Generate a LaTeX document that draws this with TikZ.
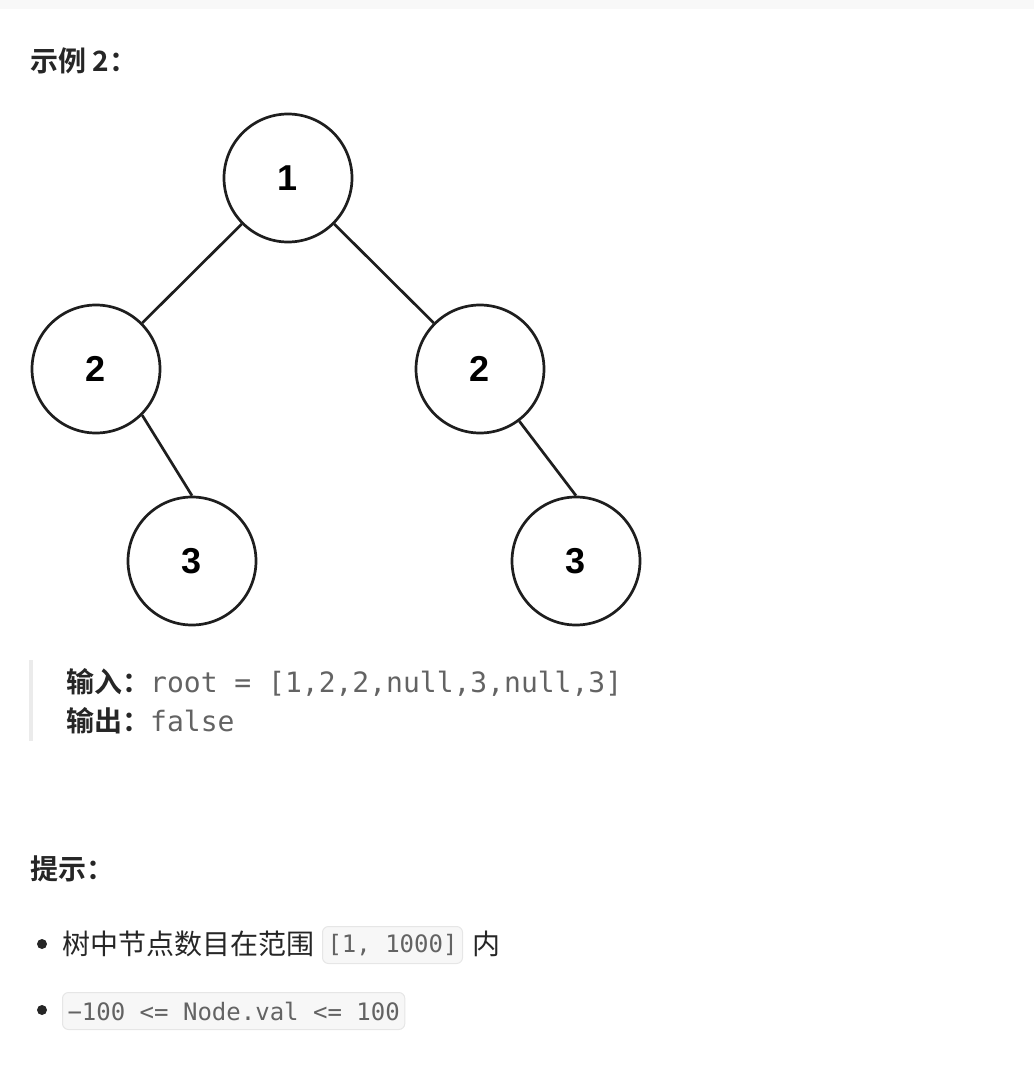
\documentclass[tikz,border=0pt]{standalone}
\usepackage{fontspec}
\setmainfont{Noto Sans CJK SC}
\newfontfamily\cjk{Noto Sans CJK SC}
\newfontfamily\cjkbold{Noto Sans CJK SC Bold}
\newfontfamily\codefont{DejaVu Sans Mono}
\newfontfamily\treefont{Liberation Sans}
\definecolor{topband}{HTML}{F8F8F8}
\definecolor{textdark}{HTML}{262626}
\definecolor{codegray}{HTML}{636363}
\definecolor{quotebar}{HTML}{EBEBEB}
\definecolor{codefill}{HTML}{F7F7F7}
\definecolor{codeborder}{HTML}{E6E6E6}
\definecolor{treeline}{HTML}{1E1E1E}
\begin{document}
\begin{tikzpicture}[x=1pt,y=-1pt,
  treenode/.style={circle, draw=treeline, line width=2.7pt, minimum size=128pt, inner sep=0pt,
    font=\treefont\bfseries\fontsize{36}{36}\selectfont, text=black},
  treeedge/.style={draw=treeline, line width=2.7pt},
  heading/.style={anchor=base west, inner sep=0pt, text=textdark, font=\cjkbold\fontsize{28}{34}\selectfont},
  bodytext/.style={anchor=base west, inner sep=0pt, text=textdark, font=\cjk\fontsize{28}{34}\selectfont},
  codetext/.style={anchor=base west, inner sep=0pt, text=codegray, font=\codefont\fontsize{28}{34}\selectfont},
  codebox/.style={anchor=west, fill=codefill, draw=codeborder, line width=1pt, rounded corners=6pt,
    inner xsep=5pt, inner ysep=0pt, minimum height=37pt, text=codegray, font=\codefont\fontsize{24}{28}\selectfont},
  bulletdot/.style={circle, fill=textdark, inner sep=0pt, minimum size=10pt}
]
\useasboundingbox (0,0) rectangle (1034,1076);
\fill[topband] (0,0) rectangle (1034,9);

% title
\node[heading] (title) at (30,71) {示例 2：};

% tree
\node[treenode] (n1) at (288,178) {1};
\node[treenode] (n2l) at (96,369) {2};
\node[treenode] (n2r) at (480,369) {2};
\node[treenode] (n3l) at (192,561) {3};
\node[treenode] (n3r) at (576,561) {3};
\draw[treeedge] (n1) -- (n2l);
\draw[treeedge] (n1) -- (n2r);
\draw[treeedge] (n2l.-45) -- (n3l.north);
\draw[treeedge] (n2r.-53) -- (n3r.north);

% quote block
\fill[quotebar] (29,660) rectangle (33,741);
\node[heading] (inlabel) at (66,692) {输入：};
\node[codetext] (invalue) at (150,692) {root = [1,2,2,null,3,null,3]};
\node[heading] (outlabel) at (66,731) {输出：};
\node[codetext] (outvalue) at (150,731) {false};

% hints
\node[heading] (hint) at (30,879) {提示：};
\node[bulletdot] (b1) at (42,944) {};
\node[bodytext] (t1) at (62,954) {树中节点数目在范围};
\node[codebox] (c1) at (322,945) {[1, 1000]};
\node[bodytext] (t1b) at (472,954) {内};
\node[bulletdot] (b2) at (42,1010) {};
\node[codebox] (c2) at (62,1011) {−100 <= Node.val <= 100};
\end{tikzpicture}
\end{document}
